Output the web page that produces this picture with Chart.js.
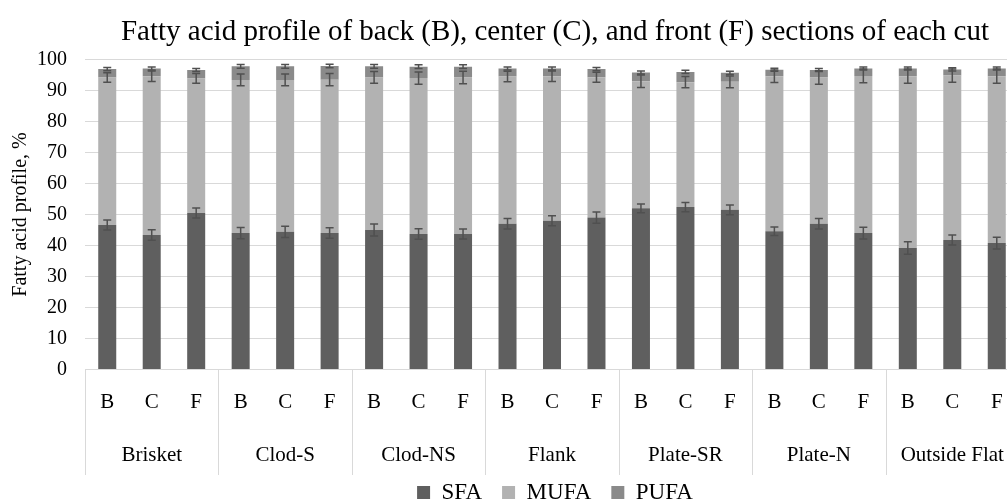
<!DOCTYPE html>
<html>
<head>
<meta charset="utf-8">
<script src="https://cdn.jsdelivr.net/npm/chart.js@4.4.0/dist/chart.umd.min.js"></script>
<style>
  html, body { margin: 0; padding: 0; overflow: hidden; background: #fff; }
  #wrap { width: 1110px; height: 504px; }
</style>
</head>
<body>
<div id="wrap"><canvas id="chart"></canvas></div>
<script>
// cuts and sections (back, center, front)
const cuts = ['Brisket', 'Clod-S', 'Clod-NS', 'Flank', 'Plate-SR', 'Plate-N', 'Outside Flat'];
const sections = ['B', 'C', 'F'];

// fatty acid shares, %
const sfa  = [46.6, 43.4, 50.5, 44.0, 44.4, 44.0, 45.0, 43.7, 43.7, 47.0, 48.0, 49.0, 52.0, 52.4, 51.5, 44.6, 47.0, 44.0, 39.2, 41.8, 40.8];
const mufa = [47.6, 51.2, 43.4, 49.4, 49.0, 49.5, 49.2, 50.3, 50.5, 47.5, 46.6, 45.3, 41.0, 40.3, 41.3, 50.0, 47.2, 50.7, 55.4, 53.0, 53.8];
const pufa = [2.7, 2.5, 2.7, 4.4, 4.4, 4.4, 3.6, 3.7, 3.5, 2.6, 2.5, 2.6, 2.8, 3.3, 2.9, 2.1, 2.4, 2.4, 2.5, 2.0, 2.5];

// error bars
const sfaErr  = [1.6, 1.7, 1.6, 1.8, 1.8, 1.7, 1.9, 1.7, 1.6, 1.7, 1.6, 1.8, 1.4, 1.5, 1.6, 1.4, 1.7, 1.9, 2.0, 1.6, 1.9];
const mufaErr = [1.5, 1.7, 1.6, 1.9, 1.9, 2.0, 1.9, 2.0, 2.0, 1.7, 1.7, 1.6, 2.0, 1.8, 1.9, 2.0, 2.2, 2.2, 2.3, 2.1, 2.3];
const pufaErr = [0.5, 0.5, 0.5, 0.6, 0.6, 0.6, 0.6, 0.6, 0.6, 0.5, 0.5, 0.5, 0.5, 0.5, 0.5, 0.5, 0.5, 0.5, 0.5, 0.5, 0.5];

const labels = [];
cuts.forEach(() => sections.forEach(s => labels.push(s)));

const FONT = 'Liberation Serif';
const GRID = '#d9d9d9';

// I-shaped error bars on top of each stacked segment
const errorBars = {
  id: 'errorBars',
  afterDatasetsDraw(chart) {
    const ctx = chart.ctx, y = chart.scales.y;
    const series = [sfa, mufa, pufa];
    const errs = [sfaErr, mufaErr, pufaErr];
    ctx.save();
    ctx.strokeStyle = '#505050';
    ctx.lineWidth = 1.5;
    series.forEach((vals, d) => {
      const meta = chart.getDatasetMeta(d);
      meta.data.forEach((bar, i) => {
        let top = 0;
        for (let k = 0; k <= d; k++) top += series[k][i];
        const y1 = y.getPixelForValue(top + errs[d][i]);
        const y2 = y.getPixelForValue(top - errs[d][i]);
        const cx = bar.x, hw = 4;
        ctx.beginPath();
        ctx.moveTo(cx, y1); ctx.lineTo(cx, y2);
        ctx.moveTo(cx - hw, y1); ctx.lineTo(cx + hw, y1);
        ctx.moveTo(cx - hw, y2); ctx.lineTo(cx + hw, y2);
        ctx.stroke();
      });
    });
    ctx.restore();
  }
};

// vertical separators between the cut groups under the axis
const groupLines = {
  id: 'groupLines',
  afterDraw(chart) {
    const ctx = chart.ctx, x = chart.scales.x, x2 = chart.scales.x2;
    const step = x.width / labels.length;
    ctx.save();
    ctx.strokeStyle = GRID;
    ctx.lineWidth = 1;
    for (let g = 0; g <= cuts.length; g++) {
      const px = Math.round(x.getPixelForValue(g * sections.length) - step / 2) + 0.5;
      ctx.beginPath();
      ctx.moveTo(px, chart.chartArea.bottom);
      ctx.lineTo(px, x2.bottom + 14);
      ctx.stroke();
    }
    ctx.restore();
  }
};

new Chart(document.getElementById('chart'), {
  type: 'bar',
  data: {
    labels: labels,
    datasets: [
      { label: 'SFA',  data: sfa,  backgroundColor: '#5f5f5f' },
      { label: 'MUFA', data: mufa, backgroundColor: '#b2b2b2' },
      { label: 'PUFA', data: pufa, backgroundColor: '#8a8a8a' }
    ]
  },
  options: {
    responsive: true,
    maintainAspectRatio: false,
    animation: false,
    layout: { padding: { left: 0, right: 0, top: 0, bottom: -10 } },
    datasets: { bar: { categoryPercentage: 1, barPercentage: 0.405 } },
    plugins: {
      title: {
        display: true,
        text: 'Fatty acid profile of back (B), center (C), and front (F) sections of each cut',
        color: '#000',
        font: { family: FONT, size: 29, weight: 'normal' },
        padding: { top: 15, bottom: 9.7 }
      },
      legend: {
        position: 'bottom',
        labels: {
          color: '#000',
          font: { family: FONT, size: 23 },
          boxWidth: 13, boxHeight: 13,
          padding: 20
        }
      },
      tooltip: { enabled: false }
    },
    scales: {
      x: {
        stacked: true,
        grid: { display: false, drawTicks: false },
        border: { color: GRID },
        ticks: { color: '#000', font: { family: FONT, size: 21 }, padding: 20.5, maxRotation: 0, autoSkip: false },
        afterFit(s) { s.height = 43.5; }
      },
      x2: {
        type: 'category',
        labels: cuts,
        offset: true,
        position: 'bottom',
        grid: { display: false, drawTicks: false },
        border: { display: false },
        ticks: { color: '#000', font: { family: FONT, size: 21 }, padding: 30, maxRotation: 0, autoSkip: false },
        afterFit(s) { s.height = 48; }
      },
      y: {
        stacked: true,
        min: 0, max: 100,
        grid: { color: GRID, drawTicks: false },
        border: { display: false },
        ticks: { stepSize: 10, autoSkip: false, color: '#000', font: { family: FONT, size: 20 }, padding: 18 },
        title: {
          display: true,
          text: 'Fatty acid profile, %',
          color: '#000',
          font: { family: FONT, size: 20 },
          padding: { top: 9, bottom: 0 }
        },
        afterFit(s) { s.width = 85; }
      },
      yR: {
        position: 'right',
        display: true,
        grid: { display: false, drawTicks: false },
        border: { display: false },
        ticks: { display: false },
        afterFit(s) { s.width = 91; }
      }
    }
  },
  plugins: [errorBars, groupLines]
});
</script>
</body>
</html>
